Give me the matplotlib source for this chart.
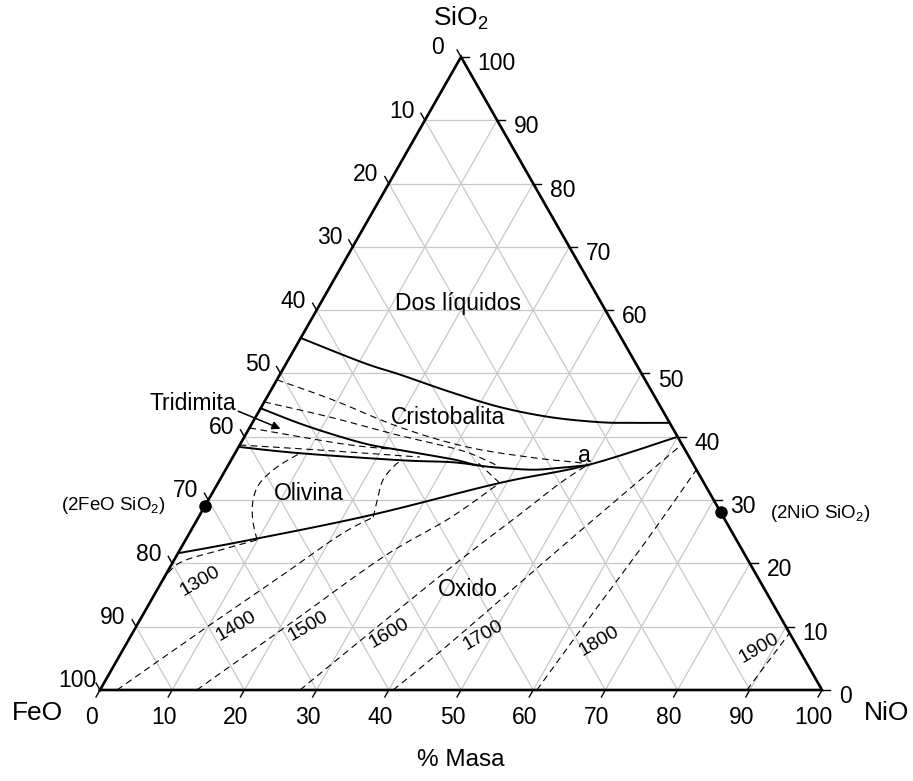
import numpy as np
import matplotlib
matplotlib.use("Agg")
import matplotlib.pyplot as plt

plt.rcParams['font.family'] = ['Liberation Sans', 'DejaVu Sans']
plt.rcParams['mathtext.default'] = 'regular'

SQ = np.sqrt(3) / 2

# all curves as (NiO %, SiO2 %) pairs, FeO is the rest
dos_liquidos = [(0, 55.6), (10.6, 51.7), (16.7, 49.8), (24.9, 47.1), (33.0, 44.7),
                (40.8, 43.1), (48.1, 42.3), (52.7, 42.2), (57.8, 42.2)]
olivina_oxido = [(0, 21.6), (8.9, 23.7), (23.6, 27.6), (39.0, 32.7), (49.7, 35.5), (60.0, 40.0)]
trid_crist = [(0, 44.5), (7.8, 41.7), (16.9, 39.0), (22.6, 37.9), (27.6, 37.0), (31.3, 36.3),
              (34.5, 35.5), (37.9, 35.1), (42.6, 34.8), (46.2, 35.1), (49.7, 35.5)]
trid_oliv = [(0, 38.4), (9.0, 37.4), (23.4, 36.3), (30.5, 36.0), (34.5, 35.5)]

# dashed isotherms, silica side
iso_a = [(0, 49.0), (9.4, 45.8), (20.8, 41.5), (31.6, 38.4), (41.6, 36.7), (48.5, 35.9), (50.1, 35.5)]
iso_b = [(0, 45.5), (10.3, 43.1), (21.0, 40.3), (30.9, 37.9), (36.0, 36.0), (37.9, 35.1)]
iso_c = [(0, 41.4), (7.7, 40.0), (15.3, 38.7), (22.6, 37.9)]
iso_d = [(0, 38.7), (11.5, 37.9), (25.9, 36.8)]

# olivine field isotherms
oliv_1300 = [(9.9, 23.7), (7.7, 26.9), (6.2, 30.0), (5.8, 32.7), (6.9, 35.2), (9.0, 37.4)]
oliv_1400 = [(24.2, 27.3), (23.4, 30.0), (22.6, 33.2), (23.1, 35.5), (23.7, 36.3)]
oliv_1500 = [(39.0, 32.7), (34.4, 35.9)]

# oxide field isotherms
ox_iso = {
    1300: [(0, 17.1), (1.0, 20.1), (5.6, 22.1), (9.9, 23.7)],
    1400: [(2.35, 0), (9.5, 9.5), (16.0, 17.9), (21.0, 24.5), (24.2, 27.3)],
    1500: [(13.4, 0), (21.1, 10.5), (28.7, 21.0), (34.9, 27.2), (39.0, 32.7)],
    1600: [(27.7, 0), (33.6, 10.3), (39.6, 20.5), (44.3, 27.8), (47.4, 32.7), (49.7, 35.5)],
    1700: [(40.6, 0), (44.8, 7.4), (53.2, 23.7), (61.2, 38.8)],
    1800: [(60.5, 0), (62.1, 11.5), (63.9, 23.7), (65.2, 34.8)],
    1900: [(89.6, 0), (91.0, 9.0)],
}
# label spots for the isotherms (NiO, SiO2)
iso_label_pos = {1300: (5.3, 17.2), 1400: (13.8, 10.1), 1500: (23.8, 10.1), 1600: (35.5, 9.0),
                 1700: (48.7, 8.7), 1800: (65.3, 7.7), 1900: (88.0, 6.6)}

fayalite_sio2 = 29.1
ni_olivine_sio2 = 28.1
ticks = list(range(0, 101, 10))


def tern(nio, sio2):
    nio = np.asarray(nio, float)
    sio2 = np.asarray(sio2, float)
    return nio + sio2 / 2, sio2 * SQ


def smooth(x, y, steps=12):
    # catmull-rom through the read points, only for drawing
    if len(x) < 3:
        return x, y
    p = np.column_stack([x, y])
    p = np.vstack([p[0], p, p[-1]])
    out = []
    t = np.linspace(0, 1, steps, endpoint=False)[:, None]
    for i in range(1, len(p) - 2):
        p0, p1, p2, p3 = p[i - 1], p[i], p[i + 1], p[i + 2]
        seg = 0.5 * ((2 * p1) + (-p0 + p2) * t + (2 * p0 - 5 * p1 + 4 * p2 - p3) * t ** 2
                     + (-p0 + 3 * p1 - 3 * p2 + p3) * t ** 3)
        out.append(seg)
    out.append(p[-2][None, :])
    out = np.vstack(out)
    return out[:, 0], out[:, 1]


def curve(ax, pts, **kw):
    a = np.array(pts, float)
    x, y = tern(a[:, 0], a[:, 1])
    x, y = smooth(x, y)
    ax.plot(x, y, **kw)


fig = plt.figure(figsize=(9.13, 7.81), dpi=100)
ax = fig.add_axes([0, 0, 1, 1])
ax.set_xlim(-13.85, 112.6)
ax.set_ylim(-12.45, 94.39)
ax.axis('off')

# grid
gcol = '#c8c8c8'
for k in ticks[1:-1]:
    for p, q in [((0, k), (100 - k, k)), ((k, 0), (k, 100 - k)), ((100 - k, 0), (0, 100 - k))]:
        x, y = tern([p[0], q[0]], [p[1], q[1]])
        ax.plot(x, y, color=gcol, lw=0.9, zorder=1)

# triangle
x, y = tern([0, 100, 0, 0], [0, 0, 100, 0])
ax.plot(x, y, color='black', lw=1.9, zorder=5, solid_joinstyle='miter')

# ticks and tick labels
L = 1.1
fs = 16.5
for k in ticks:
    # bottom: NiO
    ax.plot([k, k - 0.5 * L], [0, -SQ * L], color='black', lw=1.0)
    ax.text(k - 1.2, -3.8, str(k), ha='center', va='center', fontsize=fs)
    # right: SiO2
    px, py = tern(100 - k, k)
    ax.plot([px, px + L], [py, py], color='black', lw=1.0)
    ax.text(px + 2.3, py - 0.9, str(k), ha='left', va='center', fontsize=fs)
    # left: FeO
    px, py = tern(0, 100 - k)
    ax.plot([px, px - 0.5 * L], [py, py + SQ * L], color='black', lw=1.0)
    ax.text(px - 3.2, py + 1.25, str(k), ha='center', va='center', fontsize=fs)

# phase boundaries
for c in [dos_liquidos, olivina_oxido, trid_crist, trid_oliv]:
    curve(ax, c, color='black', lw=1.4, zorder=4)

dash = dict(color='black', lw=0.8, dashes=(6, 4), zorder=3)
for c in [iso_a, iso_b, iso_c, iso_d, oliv_1300, oliv_1400, oliv_1500]:
    curve(ax, c, **dash)
for t, c in ox_iso.items():
    curve(ax, c, **dash)
    lx, ly = tern(*iso_label_pos[t])
    ax.text(lx, ly, str(t), fontsize=14, rotation=30, ha='center', va='center',
            rotation_mode='anchor')

# compounds
for n, s in [(0, fayalite_sio2), (100 - ni_olivine_sio2, ni_olivine_sio2)]:
    px, py = tern(n, s)
    ax.plot(px, py, 'o', color='black', ms=8, zorder=6)
ax.text(9.1, 25.2, '(2FeO SiO$_2$)', ha='right', va='center', fontsize=13.5)
ax.text(92.8, 24.2, '(2NiO SiO$_2$)', ha='left', va='center', fontsize=13.5)

# field names
fields = [('Dos líquidos', 19.0, 61.1), ('Cristobalita', 26.6, 43.1), ('Olivina', 13.4, 31.0),
          ('Oxido', 43.1, 15.8), ('a', 48.5, 37.1), ('Tridimita', -9.7, 45.2)]
for name, n, s in fields:
    px, py = tern(n, s)
    ax.text(px, py, name, ha='center', va='center', fontsize=16.5)

tail = tern(-3.3, 44.2)
head = tern(4.8, 41.1)
ax.annotate('', xy=head, xytext=tail,
            arrowprops=dict(arrowstyle='-|>', color='black', lw=1.1, mutation_scale=12))

# corner names
ax.text(50, 91.9, 'SiO$_2$', ha='center', va='center', fontsize=19)
ax.text(-8.6, -3.15, 'FeO', ha='center', va='center', fontsize=19)
ax.text(109.0, -3.15, 'NiO', ha='center', va='center', fontsize=19)
ax.text(49.9, -9.6, '% Masa', ha='center', va='center', fontsize=17.5)

fig.savefig('out.png', dpi=100)
